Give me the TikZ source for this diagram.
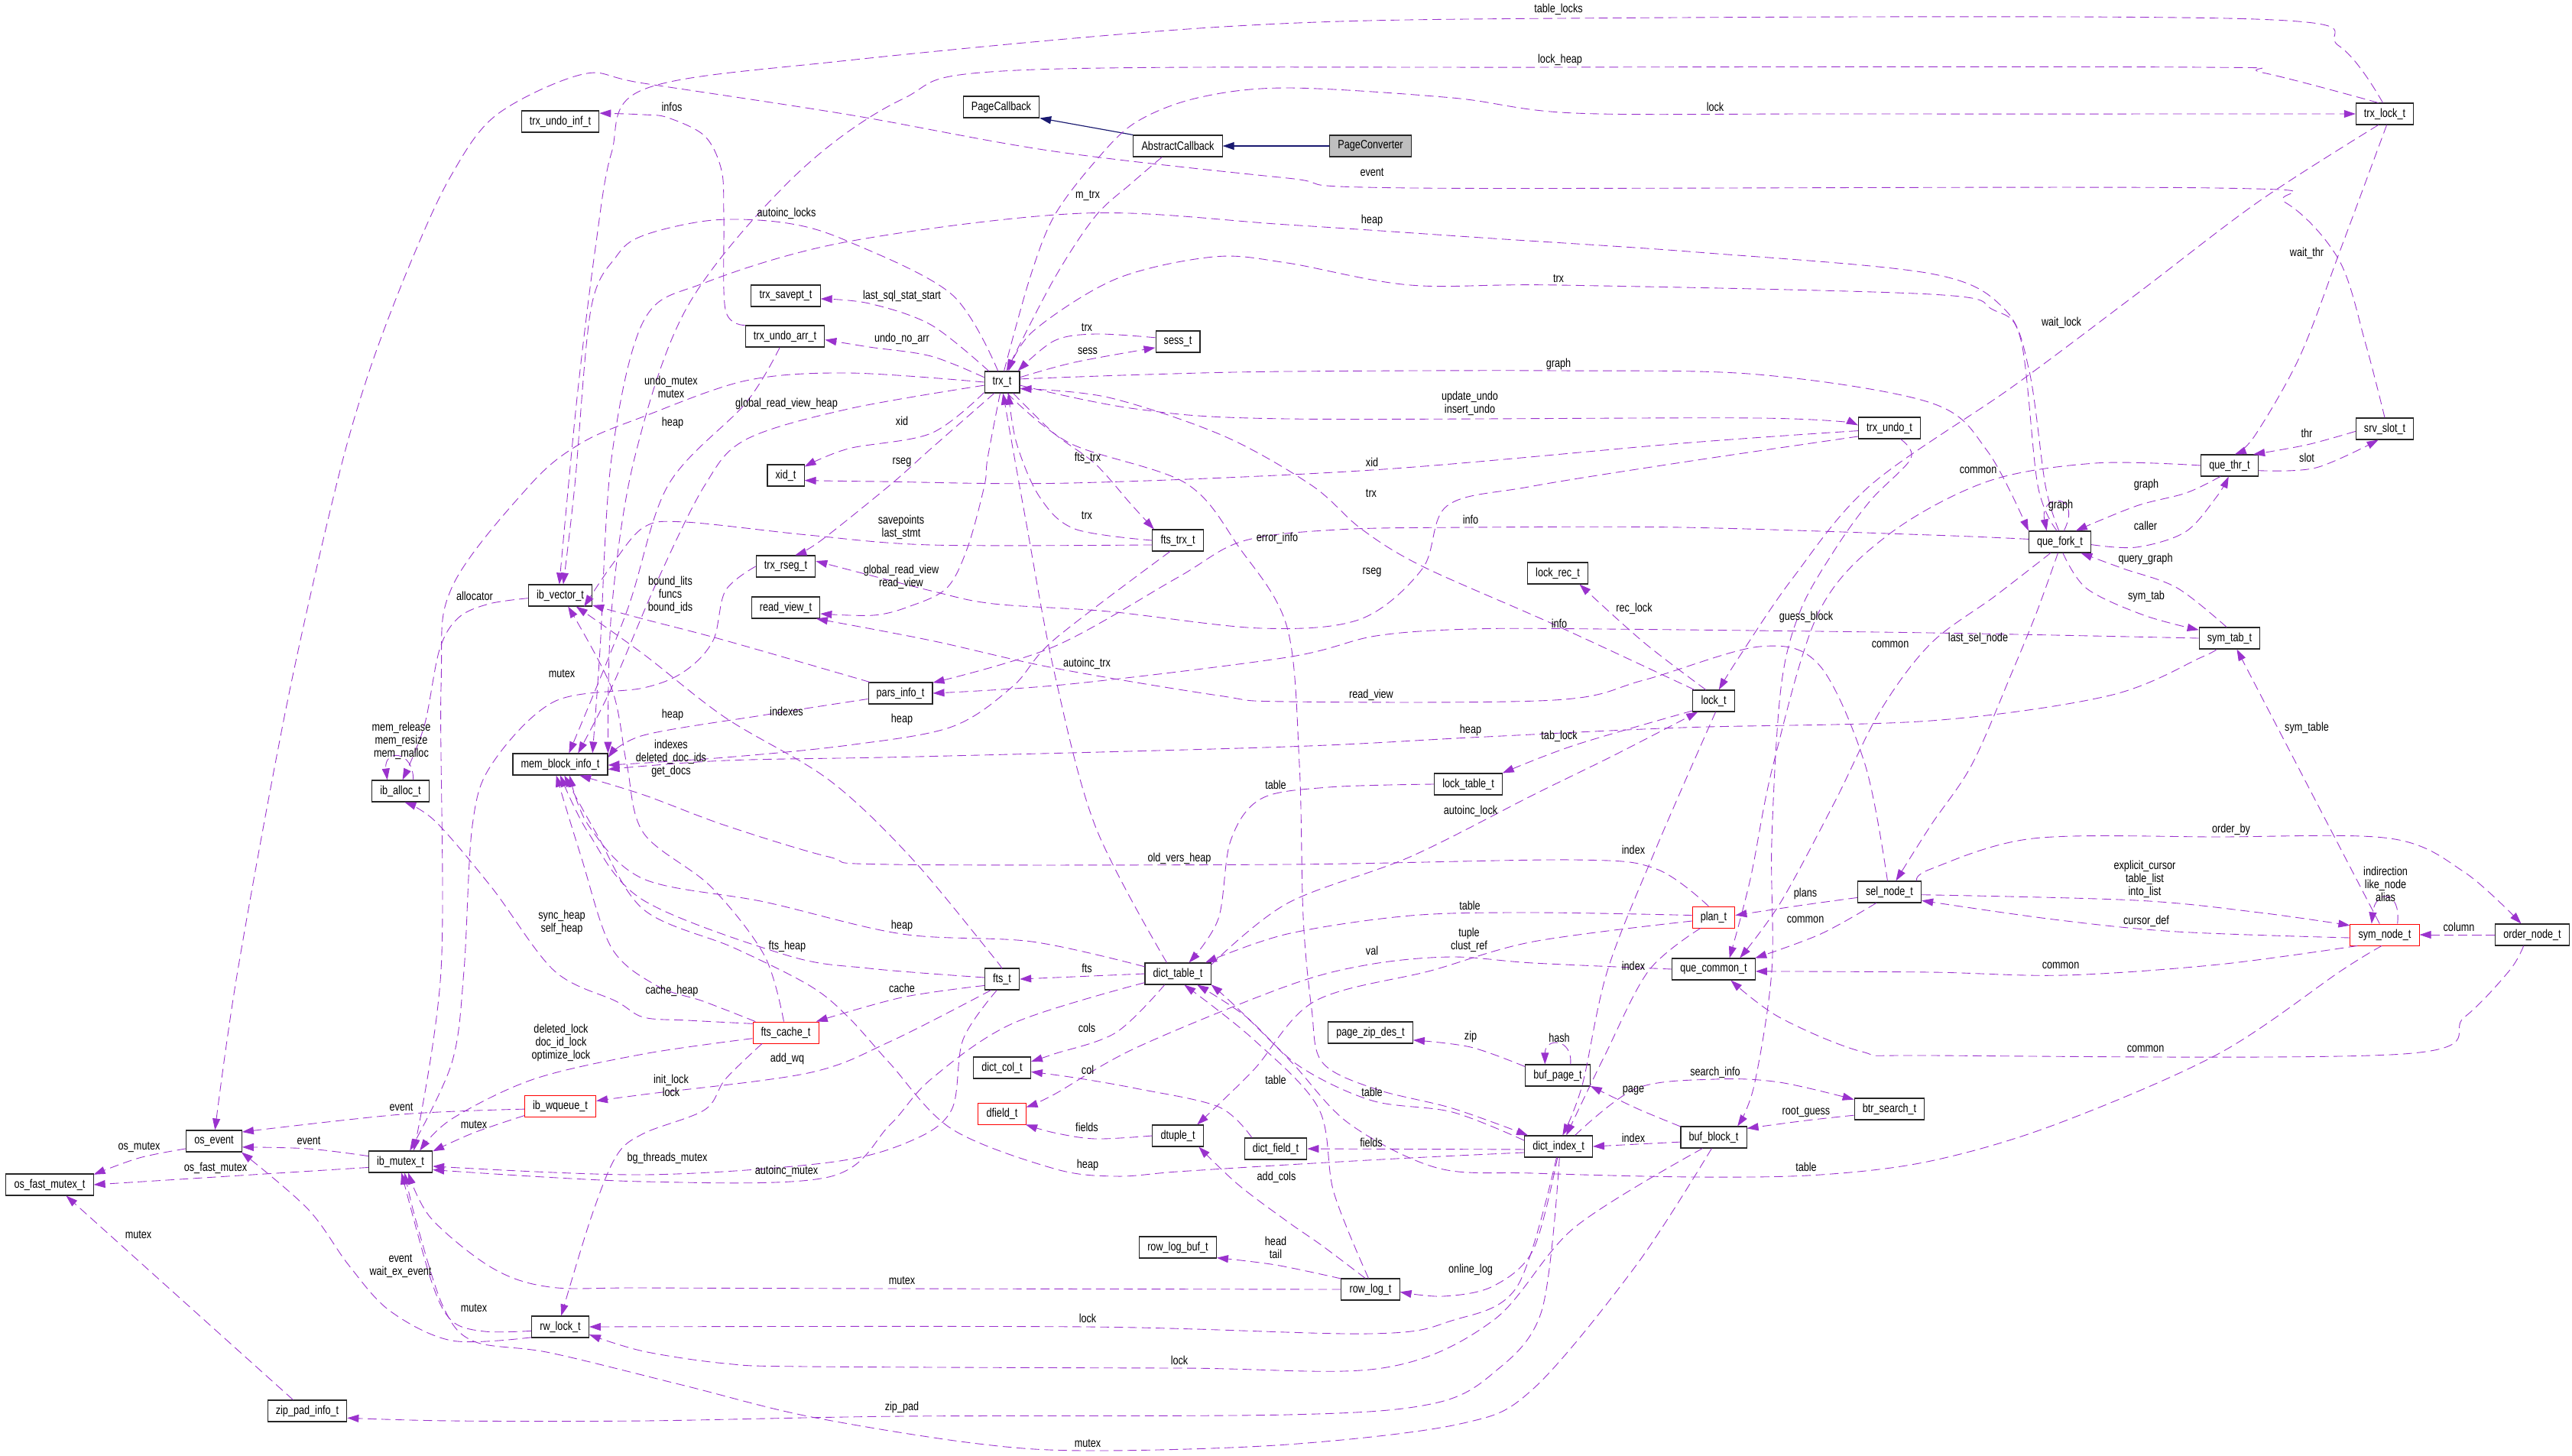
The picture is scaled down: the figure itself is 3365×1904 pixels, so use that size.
\documentclass[tikz,border=0pt]{standalone}
\usepackage{fontspec}
\setmainfont{Liberation Sans}[FakeStretch=0.8]
\usetikzlibrary{arrows.meta}
\definecolor{dc}{HTML}{9A32CD}
\definecolor{navyc}{HTML}{191970}
\definecolor{gfill}{HTML}{BFBFBF}
\newcommand\lbfont{\fontsize{13.5pt}{14.5pt}\selectfont}
\newcommand\ep[1]{\draw[dep] plot[smooth,tension=0.55] coordinates {#1};}
\tikzset{
 cls/.style={draw=black!85, line width=0.9pt, fill=white, minimum height=0.84cm, inner xsep=0.32cm, inner ysep=0pt, font=\lbfont},
 redcls/.style={cls, draw=red, line width=0.8pt},
 dep/.style={draw=dc, line width=0.75pt, dash pattern=on 10pt off 5.5pt, -{Triangle[length=0.45cm,width=0.3cm]}},
 inh/.style={draw=navyc, line width=1pt, -{Triangle[length=0.45cm,width=0.3cm]}},
 lbl/.style={font=\lbfont, align=center, inner sep=0pt},
}
\begin{document}
\begin{tikzpicture}[x=0.03cm,y=-0.03cm]
\useasboundingbox[fill=white] (0,0) rectangle (3365,1904);
% ---------- nodes ----------
\node[cls] (pc) at (1310,140) {PageCallback};
\node[cls] (ac) at (1541,191) {AbstractCallback};
\node[cls,fill=gfill] (pcv) at (1793,191) {PageConverter};
\node[cls] (tlk) at (3120,149) {trx\_lock\_t};
\node[cls] (tui) at (733,159) {trx\_undo\_inf\_t};
\node[cls] (tsp) at (1028,387) {trx\_savept\_t};
\node[cls] (tua) at (1027,440) {trx\_undo\_arr\_t};
\node[cls] (sess) at (1541,447) {sess\_t};
\node[cls] (trx) at (1311,500) {trx\_t};
\node[cls] (xid) at (1028,622) {xid\_t};
\node[cls] (tu) at (2472,560) {trx\_undo\_t};
\node[cls] (srv) at (3120,561) {srv\_slot\_t};
\node[cls] (qthr) at (2917,609) {que\_thr\_t};
\node[cls] (qfork) at (2695,709) {que\_fork\_t};
\node[cls] (stab) at (2917,835) {sym\_tab\_t};
\node[redcls] (snode) at (3120,1223) {sym\_node\_t};
\node[cls] (onode) at (3313,1223) {order\_node\_t};
\node[cls] (sel) at (2472,1167) {sel\_node\_t};
\node[redcls] (plan) at (2242,1200) {plan\_t};
\node[cls] (qcom) at (2242,1268) {que\_common\_t};
\node[cls] (lrec) at (2038,750) {lock\_rec\_t};
\node[cls] (lock) at (2242,917) {lock\_t};
\node[cls] (ltab) at (1921,1026) {lock\_table\_t};
\node[cls] (ftrx) at (1541,707) {fts\_trx\_t};
\node[cls] (rseg) at (1028,741) {trx\_rseg\_t};
\node[cls] (rview) at (1028,795) {read\_view\_t};
\node[cls] (pinfo) at (1178,907) {pars\_info\_t};
\node[cls] (ivec) at (733,779) {ib\_vector\_t};
\node[cls] (mem) at (733,1000) {mem\_block\_info\_t};
\node[cls] (ialloc) at (524,1035) {ib\_alloc\_t};
\node[cls] (dtab) at (1541,1274) {dict\_table\_t};
\node[cls] (fts) at (1311,1281) {fts\_t};
\node[redcls] (fcache) at (1028,1351) {fts\_cache\_t};
\node[cls] (dcol) at (1311,1397) {dict\_col\_t};
\node[redcls] (dfield) at (1311,1457) {dfield\_t};
\node[cls] (dtuple) at (1541,1486) {dtuple\_t};
\node[cls] (dfld) at (1669,1503) {dict\_field\_t};
\node[cls] (dind) at (2039,1500) {dict\_index\_t};
\node[cls] (bpage) at (2038,1407) {buf\_page\_t};
\node[cls] (pzip) at (1793,1351) {page\_zip\_des\_t};
\node[cls] (bblock) at (2242,1488) {buf\_block\_t};
\node[cls] (btr) at (2472,1451) {btr\_search\_t};
\node[cls] (rlbuf) at (1541,1632) {row\_log\_buf\_t};
\node[cls] (rlog) at (1793,1687) {row\_log\_t};
\node[redcls] (iwq) at (733,1447) {ib\_wqueue\_t};
\node[cls] (osev) at (280,1493) {os\_event};
\node[cls] (imut) at (524,1520) {ib\_mutex\_t};
\node[cls] (ofm) at (65,1550) {os\_fast\_mutex\_t};
\node[cls] (rwl) at (733,1736) {rw\_lock\_t};
\node[cls] (zpad) at (402,1846) {zip\_pad\_info\_t};
% ---------- inheritance ----------
\draw[inh] (ac.north west) -- (pc.south east);
\draw[inh] (pcv.west) -- (ac.east);
% ---------- dependencies ----------
\ep{(tlk.100) (3060,60) (2950,25) (2040,24) (1600,35) (1100,80) (842,117) (800,200) (779,324) (755,520) (ivec.95)}
\ep{(tlk.120) (2960,95) (2880,88) (2040,88) (1330,92) (1180,130) (1040,230) (900,400) (830,600) (800,800) (mem.13)}
\ep{(trx.80) (1347,365) (1379,283) (1433,211) (1486,160) (1567,128) (1684,115) (1900,128) (2060,148) (2400,149) (tlk.west)}
\ep{(srv.north) (3095,450) (3060,340) (2990,265) (2900,246) (1850,246) (1684,233) (1379,198) (1110,150) (842,109) (763,97) (650,150) (590,230) (537,344) (483,486) (440,635) (376,918) (311,1270) (osev.85)}
\ep{(qfork.95) (2676,635) (2655,486) (2623,405) (2526,358) (2221,330) (1953,312) (1684,294) (1417,279) (1110,316) (922,370) (842,420) (800,600) (785,850) (mem.19)}
\ep{(qfork.105) (2666,635) (2644,445) (2607,405) (2526,385) (2040,373) (1845,373) (1684,344) (1588,336) (1460,365) (1352,433) (trx.60)}
\ep{(trx.10) (1500,490) (1684,486) (2040,485) (2300,490) (2526,527) (2600,590) (qfork.north west)}
\ep{(trx.-10) (1486,535) (1684,548) (2300,547) (tu.175)}
\ep{(tu.-175) (2200,580) (1795,615) (1400,632) (1150,630) (xid.-15)}
\ep{(tlk.-120) (2956,263) (2795,385) (2633,506) (2447,635) (2345,757) (2275,860) (lock.65)}
\ep{(tlk.-80) (3063,324) (3009,466) (2950,570) (qthr.65)}
\ep{(srv.-175) (3018,582) (qthr.25)}
\ep{(qthr.-10) (3030,612) (srv.-120)}
\ep{(qthr.west) (2741,606) (2600,630) (2470,700) (2380,800) (2320,1000) (2290,1150) (qcom.35)}
\ep{(qthr.-130) (2860,645) (2795,662) (qfork.35)}
\draw[dep] (qfork.70) .. controls +(25,-50) and +(-10,-50) .. (qfork.140);
\ep{(qfork.-5) (2795,716) (2859,696) (2900,650) (qthr.-95)}
\ep{(stab.105) (2848,769) (2778,744) (qfork.-28)}
\ep{(qfork.-75) (2730,770) (2805,805) (stab.165)}
\ep{(qfork.-100) (2665,800) (2633,878) (2580,1000) (2526,1080) (sel.60)}
\ep{(qfork.-130) (2610,780) (2526,842) (2460,930) (2400,1050) (2330,1180) (qcom.23)}
\ep{(qfork.175) (2526,700) (2200,690) (1924,690) (1750,693) (1626,708) (1540,756) (1379,846) (pinfo.18)}
\ep{(stab.west) (2526,828) (2100,823) (1924,823) (1800,832) (1684,860) (1400,895) (pinfo.east)}
\ep{(trx.-65) (1400,580) (1551,632) (1621,716) (1684,821) (1700,1000) (1705,1200) (1716,1320) (1730,1390) (1800,1425) (1900,1450) (dind.160)}
\ep{(ac.-145) (1480,240) (1433,283) (1379,365) (trx.68)}
\ep{(tua.north west) (949,405) (947,284) (944,223) (922,178) (874,154) (842,150) (tui.12)}
\ep{(trx.110) (1245,385) (1110,316) (1030,292) (933,288) (842,308) (806,336) (773,405) (752,635) (ivec.75)}
\ep{(trx.140) (1218,425) (1137,397) (tsp.-5)}
\ep{(trx.165) (1218,466) (1137,454) (tua.-5)}
\ep{(sess.170) (1433,437) (1379,446) (trx.35)}
\ep{(trx.15) (1406,474) (sess.-165)}
\ep{(trx.180) (1110,488) (976,498) (842,545) (760,580) (693,635) (591,769) (577,900) (577,1270) (imut.40)}
\ep{(trx.-170) (1110,535) (976,575) (922,635) (860,760) (800,900) (mem.32)}
\ep{(tua.-115) (976,527) (874,635) (820,800) (mem.52)}
\ep{(trx.-150) (1218,567) (1110,587) (xid.25)}
\ep{(trx.-125) (1218,587) (1164,635) (1073,708) (rseg.50)}
\ep{(trx.-45) (1379,567) (1433,607) (1480,660) (ftrx.155)}
\ep{(ftrx.west) (1406,692) (1360,650) (1330,580) (trx.-60)}
\ep{(ftrx.-170) (1218,713) (1057,700) (896,683) (842,690) (800,740) (ivec.-25)}
\ep{(trx.-100) (1292,600) (1288,635) (1266,716) (1239,769) (1191,793) (1143,805) (rview.-10)}
\ep{(tu.-165) (2200,605) (2000,637) (1893,662) (1861,744) (1780,810) (1650,822) (1450,800) (1300,790) (1218,773) (rseg.10)}
\ep{(lock.150) (2033,817) (1861,741) (1781,692) (1716,635) (1600,570) (1450,520) (trx.-20)}
\ep{(lock.125) (2150,840) (lrec.-27)}
\ep{(tu.-45) (2500,600) (2447,655) (2400,720) (2355,800) (2330,900) (2318,1100) (2318,1270) (2295,1420) (bblock.25)}
\ep{(stab.-140) (2880,860) (2760,910) (2526,943) (2200,952) (1924,965) (1684,977) (1200,990) (950,995) (mem.-6)}
\ep{(lock.-155) (2060,975) (ltab.18)}
\ep{(ltab.west) (1738,1030) (1650,1045) (1610,1100) (1594,1202) (dtab.45)}
\ep{(dtab.15) (1684,1182) (1845,1121) (2006,1040) (2114,987) (lock.-145)}
\ep{(lock.-80) (2167,1109) (2103,1270) (2070,1420) (dind.70)}
\ep{(plan.-140) (2157,1270) (2100,1380) (dind.55)}
\ep{(plan.115) (2167,1137) (2060,1125) (1684,1131) (1164,1131) (1084,1121) (949,1080) (842,1040) (mem.-30)}
\ep{(sel.-170) (2360,1184) (plan.5)}
\ep{(sel.-140) (2382,1222) (qcom.15)}
\ep{(plan.175) (2006,1194) (1845,1198) (1684,1222) (dtab.22)}
\ep{(plan.-170) (2006,1232) (1872,1270) (1720,1310) (1640,1400) (dtuple.30)}
\ep{(qcom.west) (2006,1260) (1899,1252) (1791,1262) (1684,1290) (1486,1371) (1379,1432) (dfield.15)}
\ep{(sel.22) (2526,1137) (2660,1097) (2902,1095) (3127,1097) (3224,1141) (onode.135)}
\ep{(sel.-5) (2795,1178) (2956,1194) (snode.165)}
\ep{(snode.-175) (2848,1219) (2687,1203) (sel.-15)}
\draw[dep] (snode.41) .. controls +(5,-45) and +(5,-45) .. (snode.140);
\ep{(snode.115) (stab.-57)}
\ep{(onode.west) (snode.east)}
\ep{(snode.-158) (2902,1262) (2700,1276) (2526,1272) (qcom.-3)}
\ep{(onode.-128) (3283,1270) (3224,1331) (3144,1379) (2526,1381) (2436,1376) (2328,1331) (qcom.-33)}
\ep{(snode.-105) (3063,1270) (2902,1379) (2687,1472) (2526,1519) (2382,1537) (2221,1540) (2006,1535) (1880,1528) (1765,1470) (1690,1390) (1620,1320) (dtab.-18)}
\ep{(bblock.-172) (dind.east)}
\ep{(bblock.162) (2141,1450) (bpage.-18)}
\draw[dep] (bpage.41) .. controls +(3,-35) and +(0,-35) .. (bpage.139);
\ep{(bpage.165) (1924,1370) (pzip.-10)}
\ep{(dind.34) (2141,1424) (2244,1412) (2328,1416) (btr.165)}
\ep{(btr.-170) (2363,1466) (bblock.15)}
\ep{(dind.-175) (dfld.east)}
\ep{(dind.-95) (2006,1635) (1953,1683) (1888,1696) (rlog.-5)}
\ep{(dind.-100) (1985,1683) (1899,1728) (1791,1745) (1423,1736) (rwl.east)}
\ep{(bblock.-135) (2060,1606) (1953,1728) (1808,1790) (1543,1790) (1057,1788) (949,1784) (842,1768) (rwl.-15)}
\ep{(dind.-85) (2017,1715) (1953,1797) (1872,1837) (1684,1851) (1180,1853) (842,1859) (591,1859) (zpad.-10)}
\ep{(bblock.-100) (2141,1655) (2006,1817) (1910,1863) (1684,1890) (1423,1898) (1272,1888) (1057,1853) (896,1813) (720,1770) (620,1755) (580,1710) (545,1600) (imut.-70)}
\ep{(rlog.west) (1180,1686) (842,1685) (720,1684) (644,1659) (564,1594) (imut.-55)}
\ep{(rlog.160) (1669,1655) (rlbuf.-15)}
\ep{(rlog.115) (1730,1630) (1684,1598) (1620,1550) (dtuple.-28)}
\ep{(dtuple.west) (1433,1490) (1379,1482) (dfield.-25)}
\ep{(dfld.155) (1594,1448) (1486,1424) (1406,1410) (dcol.-8)}
\ep{(dtab.-140) (1460,1351) (1379,1379) (dcol.12)}
\ep{(dtab.west) (fts.east)}
\ep{(dtab.168) (1350,1232) (1180,1222) (1000,1180) (842,1150) (770,1080) (mem.-50)}
\ep{(dind.-170) (1845,1515) (1684,1524) (1540,1533) (1460,1539) (1379,1529) (1245,1477) (1164,1391) (1110,1331) (1060,1290) (960,1240) (842,1190) (780,1090) (mem.-70)}
\ep{(fts.175) (1137,1267) (1030,1250) (842,1178) (770,1090) (mem.-90)}
\ep{(fts.-160) (1180,1305) (fcache.20)}
\ep{(fts.-135) (1164,1363) (1057,1404) (842,1432) (iwq.8)}
\ep{(fts.-115) (1260,1360) (1245,1452) (1191,1493) (1084,1521) (842,1537) (imut.-8)}
\ep{(dtab.-165) (1325,1339) (1218,1412) (1164,1472) (1084,1540) (842,1546) (imut.-14)}
\ep{(fcache.160) (920,1310) (860,1290) (800,1240) (760,1120) (mem.-110)}
\ep{(fcache.-170) (842,1379) (698,1412) (591,1464) (imut.30)}
\ep{(fcache.-155) (949,1412) (922,1452) (842,1483) (806,1513) (773,1594) (rwl.85)}
\ep{(fcache.165) (900,1335) (842,1331) (806,1310) (725,1270) (644,1162) (570,1075) (ialloc.-70)}
\ep{(fcache.100) (1000,1250) (930,1160) (842,1090) (820,1000) (800,900) (ivec.-55)}
\ep{(fts.95) (1298,1250) (1191,1121) (1084,1020) (949,939) (842,856) (ivec.-35)}
\ep{(iwq.-175) (525,1458) (osev.18)}
\ep{(iwq.-165) (620,1482) (imut.18)}
\ep{(imut.170) (404,1503) (osev.-12)}
\ep{(osev.-165) (182,1515) (ofm.13)}
\ep{(imut.-170) (282,1540) (ofm.east)}
\ep{(zpad.142) (ofm.-34)}
\ep{(rwl.-160) (591,1754) (510,1715) (456,1655) (403,1582) (osev.-22)}
\ep{(rwl.-172) (634,1742) (591,1728) (564,1675) (imut.-85)}
\ep{(rseg.west) (949,773) (933,838) (896,878) (842,900) (725,918) (644,999) (618,1080) (607,1270) (591,1391) (imut.50)}
\ep{(ivec.-175) (640,790) (600,808) (575,850) (555,950) (ialloc.80)}
\draw[dep] (ialloc.41) .. controls +(0,-40) and +(-5,-40) .. (ialloc.140);
\ep{(pinfo.160) (949,838) (842,810) (ivec.-17)}
\ep{(pinfo.-170) (1003,935) (842,962) (mem.8)}
\ep{(ftrx.-125) (1379,837) (1325,898) (1245,951) (1110,975) (949,991) (mem.-1)}
\ep{(dtab.135) (1433,1081) (1379,878) (1341,675) (trx.-85)}
\ep{(sel.100) (2440,1000) (2380,870) (2302,846) (2150,890) (2033,916) (1684,918) (1594,910) (1379,874) (1218,838) (rview.-20)}
\ep{(dind.170) (1900,1455) (1795,1440) (1700,1395) (1630,1330) (dtab.-30)}
\ep{(rlog.100) (1745,1560) (1725,1450) (1640,1360) (dtab.-60)}
% ---------- labels ----------
\node[lbl] (l1) at (2039,12) {table\_locks};
\node[lbl] (l2) at (2041,78) {lock\_heap};
\node[lbl] (l3) at (2244,140) {lock};
\node[lbl] (l4) at (1795,225) {event};
\node[lbl] (l5) at (1795,288) {heap};
\node[lbl] (l6) at (2039,364) {trx};
\node[lbl] (l7) at (2039,476) {graph};
\node[lbl] (l8) at (1923,528) {update\_undo\\insert\_undo};
\node[lbl] (l9) at (1795,605) {xid};
\node[lbl] (l10) at (2697,422) {wait\_lock};
\node[lbl] (l11) at (3018,331) {wait\_thr};
\node[lbl] (l12) at (3018,567) {thr};
\node[lbl] (l13) at (3018,599) {slot};
\node[lbl] (l14) at (2588,615) {common};
\node[lbl] (l15) at (2808,634) {graph};
\node[lbl] (l16) at (2696,661) {graph};
\node[lbl] (l17) at (2807,688) {caller};
\node[lbl] (l18) at (2807,731) {query\_graph};
\node[lbl] (l19) at (2808,780) {sym\_tab};
\node[lbl] (l20) at (2588,835) {last\_sel\_node};
\node[lbl] (l21) at (1924,680) {info};
\node[lbl] (l22) at (1671,704) {error\_info};
\node[lbl] (l23) at (1423,256) {m\_trx};
\node[lbl] (l24) at (879,140) {infos};
\node[lbl] (l25) at (1029,279) {autoinc\_locks};
\node[lbl] (l26) at (1180,387) {last\_sql\_stat\_start};
\node[lbl] (l27) at (1180,443) {undo\_no\_arr};
\node[lbl] (l28) at (1422,428) {trx};
\node[lbl] (l29) at (1423,459) {sess};
\node[lbl] (l30) at (878,506) {undo\_mutex\\mutex};
\node[lbl] (l31) at (1029,528) {global\_read\_view\_heap};
\node[lbl] (l32) at (880,553) {heap};
\node[lbl] (l33) at (1180,551) {xid};
\node[lbl] (l34) at (1180,605) {rseg};
\node[lbl] (l35) at (1423,599) {fts\_trx};
\node[lbl] (l36) at (1422,674) {trx};
\node[lbl] (l37) at (1179,690) {savepoints\\last\_stmt};
\node[lbl] (l38) at (1179,755) {global\_read\_view\\read\_view};
\node[lbl] (l39) at (1795,749) {rseg};
\node[lbl] (l40) at (1794,645) {trx};
\node[lbl] (l41) at (2138,796) {rec\_lock};
\node[lbl] (l42) at (2040,816) {info};
\node[lbl] (l43) at (2363,807) {guess\_block};
\node[lbl] (l44) at (2473,843) {common};
\node[lbl] (l45) at (1794,909) {read\_view};
\node[lbl] (l46) at (1924,955) {heap};
\node[lbl] (l47) at (2040,963) {tab\_lock};
\node[lbl] (l48) at (1669,1027) {table};
\node[lbl] (l49) at (1924,1061) {autoinc\_lock};
\node[lbl] (l50) at (2137,1112) {index};
\node[lbl] (l51) at (1543,1123) {old\_vers\_heap};
\node[lbl] (l52) at (2362,1169) {plans};
\node[lbl] (l53) at (2362,1203) {common};
\node[lbl] (l54) at (1923,1185) {table};
\node[lbl] (l55) at (1922,1230) {tuple\\clust\_ref};
\node[lbl] (l56) at (1795,1244) {val};
\node[lbl] (l57) at (2137,1264) {index};
\node[lbl] (l58) at (2919,1085) {order\_by};
\node[lbl] (l59) at (2806,1150) {explicit\_cursor\\table\_list\\into\_list};
\node[lbl] (l60) at (3121,1157) {indirection\\like\_node\\alias};
\node[lbl] (l61) at (2808,1205) {cursor\_def};
\node[lbl] (l62) at (3018,952) {sym\_table};
\node[lbl] (l63) at (3217,1213) {column};
\node[lbl] (l64) at (2696,1263) {common};
\node[lbl] (l65) at (2807,1372) {common};
\node[lbl] (l66) at (2363,1527) {table};
\node[lbl] (l67) at (1924,1356) {zip};
\node[lbl] (l68) at (2040,1358) {hash};
\node[lbl] (l69) at (2244,1403) {search\_info};
\node[lbl] (l70) at (2137,1427) {page};
\node[lbl] (l71) at (1795,1429) {table};
\node[lbl] (l72) at (2363,1455) {root\_guess};
\node[lbl] (l73) at (1794,1495) {fields};
\node[lbl] (l74) at (2137,1489) {index};
\node[lbl] (l75) at (1924,1661) {online\_log};
\node[lbl] (l76) at (1422,1345) {cols};
\node[lbl] (l77) at (1423,1400) {col};
\node[lbl] (l78) at (1422,1475) {fields};
\node[lbl] (l79) at (1669,1413) {table};
\node[lbl] (l80) at (1423,1524) {heap};
\node[lbl] (l81) at (1670,1540) {add\_cols};
\node[lbl] (l82) at (1669,1632) {head\\tail};
\node[lbl] (l83) at (1180,1675) {mutex};
\node[lbl] (l84) at (1423,1725) {lock};
\node[lbl] (l85) at (1543,1780) {lock};
\node[lbl] (l86) at (1180,1841) {zip\_pad};
\node[lbl] (l87) at (1423,1888) {mutex};
\node[lbl] (l88) at (1422,868) {autoinc\_trx};
\node[lbl] (l89) at (877,778) {bound\_lits\\funcs\\bound\_ids};
\node[lbl] (l90) at (880,935) {heap};
\node[lbl] (l91) at (1029,931) {indexes};
\node[lbl] (l92) at (1180,941) {heap};
\node[lbl] (l93) at (878,992) {indexes\\deleted\_doc\_ids\\get\_docs};
\node[lbl] (l94) at (621,780) {allocator};
\node[lbl] (l95) at (735,881) {mutex};
\node[lbl] (l96) at (525,969) {mem\_release\\mem\_resize\\mem\_malloc};
\node[lbl] (l97) at (735,1207) {sync\_heap\\self\_heap};
\node[lbl] (l98) at (1180,1211) {heap};
\node[lbl] (l99) at (1030,1238) {fts\_heap};
\node[lbl] (l100) at (1422,1267) {fts};
\node[lbl] (l101) at (1180,1293) {cache};
\node[lbl] (l102) at (879,1296) {cache\_heap};
\node[lbl] (l103) at (734,1364) {deleted\_lock\\doc\_id\_lock\\optimize\_lock};
\node[lbl] (l104) at (1030,1385) {add\_wq};
\node[lbl] (l105) at (878,1420) {init\_lock\\lock};
\node[lbl] (l106) at (525,1448) {event};
\node[lbl] (l107) at (620,1471) {mutex};
\node[lbl] (l108) at (404,1492) {event};
\node[lbl] (l109) at (182,1501) {os\_mutex};
\node[lbl] (l110) at (282,1528) {os\_fast\_mutex};
\node[lbl] (l111) at (873,1515) {bg\_threads\_mutex};
\node[lbl] (l112) at (1029,1532) {autoinc\_mutex};
\node[lbl] (l113) at (181,1615) {mutex};
\node[lbl] (l114) at (524,1656) {event\\wait\_ex\_event};
\node[lbl] (l115) at (620,1711) {mutex};
\end{tikzpicture}
\end{document}
